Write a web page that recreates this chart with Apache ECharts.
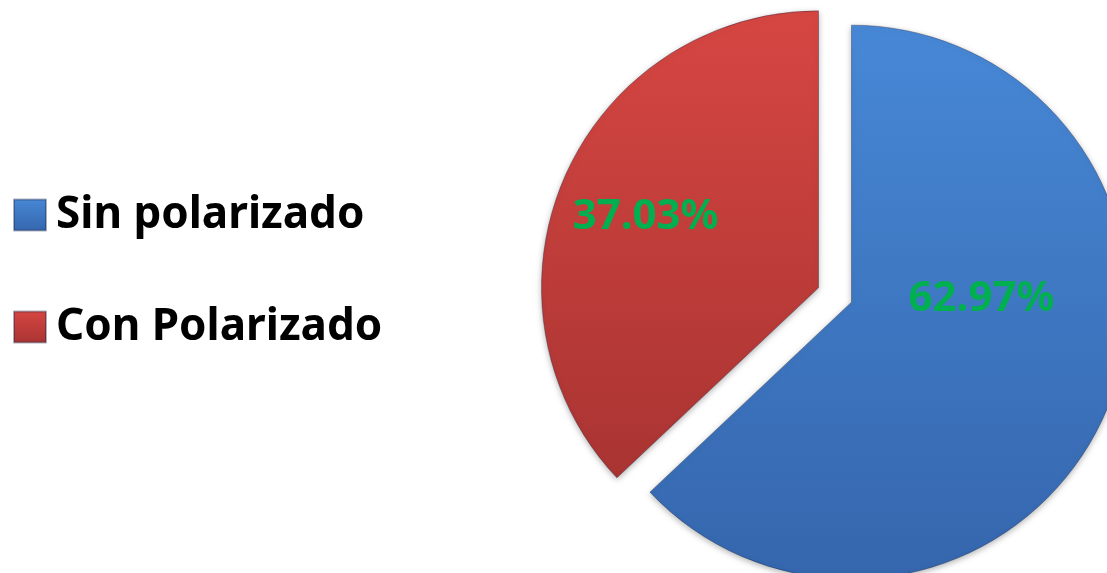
<!DOCTYPE html>
<html>
<head>
<meta charset="utf-8">
<script src="https://cdn.jsdelivr.net/npm/echarts@6/dist/echarts.min.js"></script>
<style>
    html, body { margin: 0; padding: 0; background: #fff; }
    #chart { width: 1107px; height: 573px; }
</style>
</head>
<body>
<div id="chart"></div>
<script>
const categories = ['Sin polarizado', 'Con Polarizado']
const shares = [62.97, 37.03]
const labelTexts = ['62.97%', '37.03%']

const sliceColors = [
    new echarts.graphic.LinearGradient(0, 0, 0, 1, [
        { offset: 0, color: '#4788d6' },
        { offset: 1, color: '#3566ad' }
    ]),
    new echarts.graphic.LinearGradient(0, 0, 0, 1, [
        { offset: 0, color: '#d64642' },
        { offset: 1, color: '#a93432' }
    ])
]
// nudges for the inside labels: right padding moves left, line height moves up
const labelPads = [[0, 0, 0, 0], [0, 86, 0, 0]]
const labelLineHeights = [118, 30]

const chart = echarts.init(document.getElementById('chart'))

const option = {
    animation: false,
    legend: {
        orient: 'vertical',
        left: 8,
        top: 188,
        itemWidth: 32,
        itemHeight: 31,
        itemGap: 68,
        icon: 'rect',
        selectedMode: false,
        textStyle: {
            color: '#000',
            fontFamily: 'Noto Sans',
            fontWeight: 'bold',
            fontSize: 44,
            lineHeight: 40,
            padding: [0, 0, 0, 5]
        },
        data: categories
    },
    series: [
        {
            type: 'pie',
            center: [835, 295],
            radius: 277,
            startAngle: 90,
            clockwise: true,
            selectedMode: 'multiple',
            selectedOffset: 18,
            emphasis: { disabled: true },
            itemStyle: {
                borderColor: 'rgba(20,30,60,0.35)',
                borderWidth: 1,
                shadowColor: 'rgba(0,0,0,0.3)',
                shadowBlur: 6,
                shadowOffsetY: 2
            },
            label: {
                position: 'inside',
                color: '#00b050',
                fontFamily: 'Noto Sans',
                fontWeight: 'bold',
                fontSize: 42
            },
            labelLine: { show: false },
            data: categories.map((name, i) => ({
                name,
                value: shares[i],
                selected: true,
                itemStyle: { color: sliceColors[i] },
                label: {
                    formatter: labelTexts[i] + '\n ',
                    padding: labelPads[i],
                    lineHeight: labelLineHeights[i]
                }
            }))
        }
    ]
}

chart.setOption(option)
window.addEventListener('resize', () => chart.resize())
</script>
</body>
</html>
